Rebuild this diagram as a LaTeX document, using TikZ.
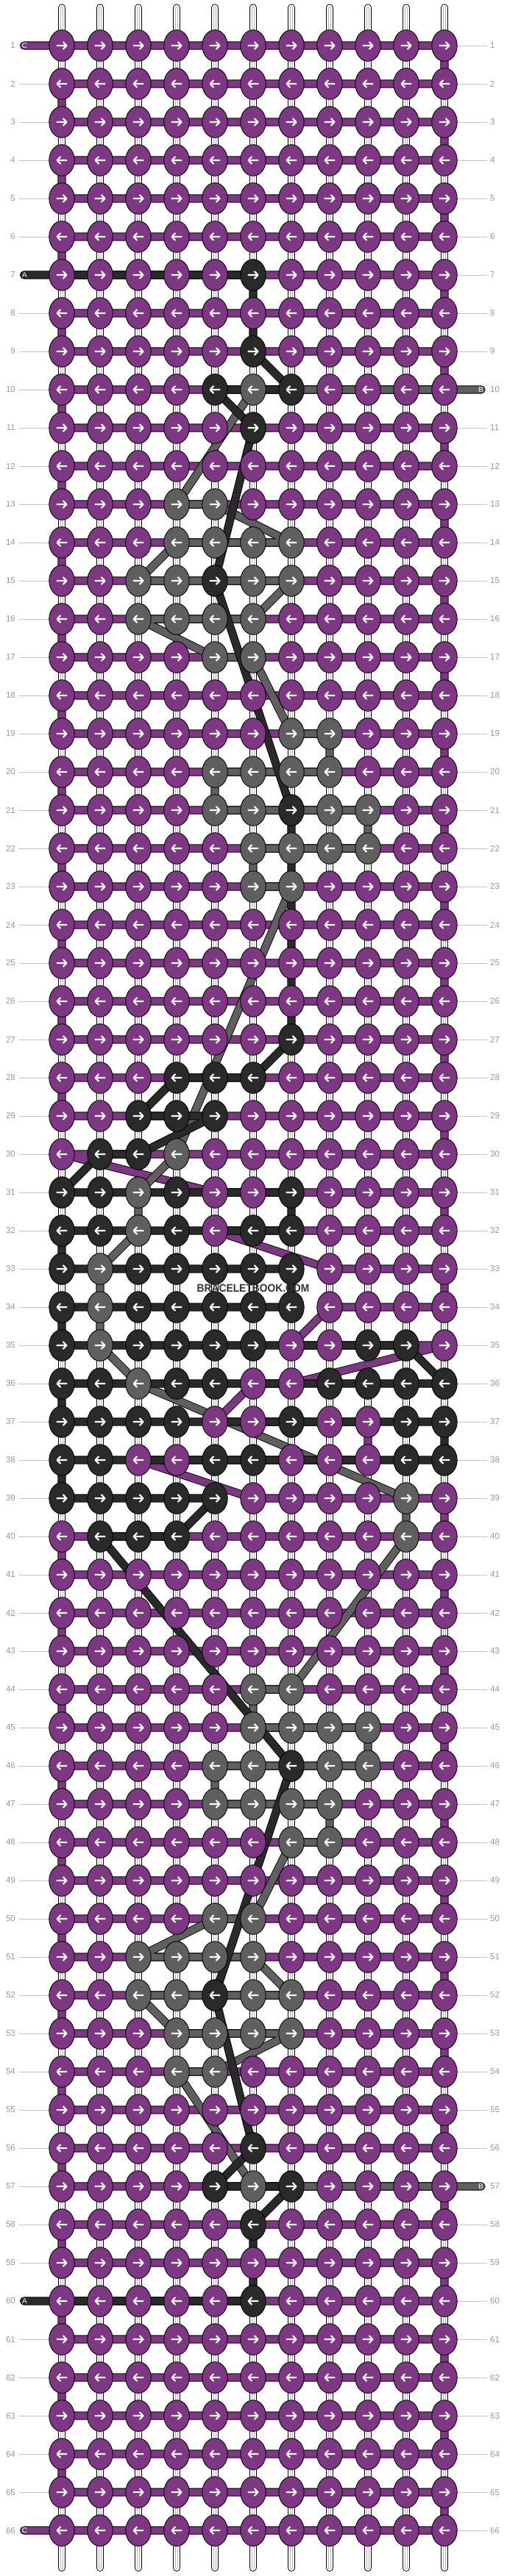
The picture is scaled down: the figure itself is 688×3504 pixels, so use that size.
\documentclass[tikz,border=0pt]{standalone}
\usepackage{fontspec}
\setmainfont{Liberation Sans}
\usetikzlibrary{shapes.geometric}
\definecolor{purp}{RGB}{126,56,131}
\definecolor{blk}{RGB}{42,42,42}
\definecolor{gry}{RGB}{95,95,95}
\definecolor{numc}{RGB}{153,153,153}
\definecolor{tickc}{RGB}{196,196,196}
\definecolor{wmc}{RGB}{51,51,51}
\newcommand\defrow[2]{\expandafter\def\csname kr@#1\endcsname{#2}}
\def\allP{P,P,P,P,P,P,P,P,P,P,P}
\defrow{7}{P,P,P,P,P,K,P,P,P,P,P}
\defrow{9}{P,P,P,P,P,K,P,P,P,P,P}
\defrow{10}{P,P,P,P,K,G,K,P,P,P,P}
\defrow{11}{P,P,P,P,P,K,P,P,P,P,P}
\defrow{13}{P,P,P,G,G,P,P,P,P,P,P}
\defrow{14}{P,P,P,G,G,G,G,P,P,P,P}
\defrow{15}{P,P,G,G,K,G,G,P,P,P,P}
\defrow{16}{P,P,G,G,G,G,P,P,P,P,P}
\defrow{17}{P,P,P,P,G,G,P,P,P,P,P}
\defrow{19}{P,P,P,P,P,P,G,G,P,P,P}
\defrow{20}{P,P,P,P,G,G,G,G,P,P,P}
\defrow{21}{P,P,P,P,G,G,K,G,G,P,P}
\defrow{22}{P,P,P,P,P,G,G,G,G,P,P}
\defrow{23}{P,P,P,P,P,G,G,P,P,P,P}
\defrow{27}{P,P,P,P,P,P,K,P,P,P,P}
\defrow{28}{P,P,P,K,K,K,P,P,P,P,P}
\defrow{29}{P,P,K,K,K,P,P,P,P,P,P}
\defrow{30}{P,K,K,G,P,P,P,P,P,P,P}
\defrow{31}{K,K,G,K,P,P,K,P,P,P,P}
\defrow{32}{K,K,G,K,P,K,K,P,P,P,P}
\defrow{33}{K,G,K,K,K,K,K,P,P,P,P}
\defrow{34}{K,G,K,K,K,K,K,P,P,P,P}
\defrow{35}{K,G,K,K,K,K,P,P,K,K,P}
\defrow{36}{K,K,G,K,K,P,P,K,K,K,K}
\defrow{37}{K,K,K,K,P,P,K,P,P,K,K}
\defrow{38}{K,K,P,P,K,K,P,P,P,K,K}
\defrow{39}{K,K,K,K,K,P,P,P,P,G,P}
\defrow{40}{P,K,K,K,P,P,P,P,P,G,P}
\defrow{44}{P,P,P,P,P,G,G,P,P,P,P}
\defrow{45}{P,P,P,P,P,G,G,G,G,P,P}
\defrow{46}{P,P,P,P,G,G,K,G,G,P,P}
\defrow{47}{P,P,P,P,G,G,G,G,P,P,P}
\defrow{48}{P,P,P,P,P,P,G,G,P,P,P}
\defrow{50}{P,P,P,P,G,G,P,P,P,P,P}
\defrow{51}{P,P,G,G,G,G,P,P,P,P,P}
\defrow{52}{P,P,G,G,K,G,G,P,P,P,P}
\defrow{53}{P,P,P,G,G,G,G,P,P,P,P}
\defrow{54}{P,P,P,G,G,P,P,P,P,P,P}
\defrow{56}{P,P,P,P,P,K,P,P,P,P,P}
\defrow{57}{P,P,P,P,K,G,K,P,P,P,P}
\defrow{58}{P,P,P,P,P,K,P,P,P,P,P}
\defrow{60}{P,P,P,P,P,K,P,P,P,P,P}
\tikzset{
  knot/.style={ellipse,draw=black,line width=0.9,minimum width=34.4,minimum height=42.6,inner sep=0},
  knotP/.style={knot,fill=purp},
  knotK/.style={knot,fill=blk},
  knotG/.style={knot,fill=gry},
  arw/.style={draw=white,line width=2.1,line cap=round,line join=round},
  thr/.style={draw=black,line width=0.9,double=#1,double distance=9.4,line cap=round,line join=round},
  strandout/.style={draw=black,line width=1,double=white,double distance=8.4,line cap=round},
  strandin/.style={draw=black!30,line width=0.7,double=white,double distance=2.2,line cap=round},
  numL/.style={anchor=east,inner sep=0,text=numc,font=\fontsize{11.5}{12}\selectfont},
  numR/.style={anchor=west,inner sep=0,text=numc,font=\fontsize{11.5}{12}\selectfont},
  tick/.style={draw=tickc,line width=1},
  lab/.style={inner sep=0,text=white,font=\fontsize{10}{10}\selectfont},
}
\begin{document}
\begin{tikzpicture}[x=1pt,y=-1pt]
\useasboundingbox (0,0) rectangle (688,3504);
\fill[white] (0,0) rectangle (688,3504);
% grid coordinates
\foreach \rr in {1,...,66}{
  \foreach \cc in {1,...,11}{
    \coordinate (p-\rr-\cc) at ({84+52*(\cc-1)},{62+52*(\rr-1)});
  }
}
% base strings
\foreach \cc in {1,...,11}{
  \coordinate (st-\cc) at ({84+52*(\cc-1)},10.5);
  \coordinate (sb-\cc) at ({84+52*(\cc-1)},3492.7);
  \draw[strandout] (st-\cc) -- (sb-\cc);
  \draw[strandin] (st-\cc) -- (sb-\cc);
}
% row numbers and ticks
\foreach \rr in {1,...,66}{
  \node[numL] (nl-\rr) at (21,{62+52*(\rr-1)}) {\rr};
  \node[numR] (nr-\rr) at (666,{62+52*(\rr-1)}) {\rr};
  \ifnum\rr=1 \else\ifnum\rr=7 \else\ifnum\rr=60 \else\ifnum\rr=66 \else
    \draw[tick] ([xshift=5pt]nl-\rr.east) -- (p-\rr-1);
  \fi\fi\fi\fi
  \ifnum\rr=10 \else\ifnum\rr=57 \else
    \draw[tick] (p-\rr-11) -- ([xshift=-4pt]nr-\rr.west);
  \fi\fi
}
% thread ends
\coordinate (sC) at (32.5,62);
\coordinate (eC) at (32.5,3442);
\coordinate (sA) at (32.5,374);
\coordinate (eA) at (32.5,3130);
\coordinate (sB) at (654,530);
\coordinate (eB) at (654,2974);
% thread C (purple)
\draw[thr=purp] (sC)
  \foreach \a/\b in {1/2,3/4,5/6,7/8,9/10,11/12,13/14,15/16,17/18,19/20,21/22,23/24,25/26,27/28,29/30}{
    -- (p-\a-1) -- (p-\a-11) -- (p-\b-11) -- (p-\b-1) }
  -- (p-31-5) -- (p-31-11) -- (p-32-11) -- (p-32-5) -- (p-33-8) -- (p-33-11)
  -- (p-34-11) -- (p-34-8) -- (p-35-7) -- (p-35-11) -- (p-36-7) -- (p-36-6)
  -- (p-37-5) -- (p-37-9) -- (p-38-9) -- (p-38-3) -- (p-39-6) -- (p-39-11)
  -- (p-40-11) -- (p-40-1)
  \foreach \a/\b in {41/42,43/44,45/46,47/48,49/50,51/52,53/54,55/56,57/58,59/60,61/62,63/64,65/66}{
    -- (p-\a-1) -- (p-\a-11) -- (p-\b-11) -- (p-\b-1) }
  -- (eC);
% thread B (grey)
\draw[thr=gry] (sB) -- (p-10-6) -- (p-13-4) -- (p-13-5) -- (p-14-7) -- (p-14-4)
  -- (p-15-3) -- (p-15-7) -- (p-16-6) -- (p-16-3) -- (p-17-5) -- (p-17-6)
  -- (p-19-7) -- (p-19-8) -- (p-20-8) -- (p-20-5) -- (p-21-5) -- (p-21-9)
  -- (p-22-9) -- (p-22-6) -- (p-23-6) -- (p-23-7) -- (p-30-4) -- (p-31-3)
  -- (p-32-3) -- (p-33-2) -- (p-34-2) -- (p-35-2) -- (p-36-3) -- (p-39-10)
  -- (p-40-10) -- (p-44-7) -- (p-44-6) -- (p-45-6) -- (p-45-9) -- (p-46-9)
  -- (p-46-5) -- (p-47-5) -- (p-47-8) -- (p-48-8) -- (p-48-7) -- (p-50-6)
  -- (p-50-5) -- (p-51-3) -- (p-51-6) -- (p-52-7) -- (p-52-3) -- (p-53-4)
  -- (p-53-7) -- (p-54-5) -- (p-54-4) -- (p-57-6) -- (eB);
% thread A (black)
\draw[thr=blk] (sA) -- (p-7-6) -- (p-9-6) -- (p-10-7) -- (p-10-5) -- (p-11-6)
  -- (p-15-5) -- (p-21-7) -- (p-27-7) -- (p-28-6) -- (p-28-4) -- (p-29-3)
  -- (p-29-5) -- (p-30-3) -- (p-30-2) -- (p-31-1) -- (p-31-7) -- (p-32-7)
  -- (p-32-1) -- (p-33-1) -- (p-33-7) -- (p-34-7) -- (p-34-1) -- (p-35-1)
  -- (p-35-10) -- (p-36-11) -- (p-36-1) -- (p-37-1) -- (p-37-11) -- (p-38-11)
  -- (p-38-1) -- (p-39-1) -- (p-39-5) -- (p-40-4) -- (p-40-2) -- (p-46-7)
  -- (p-52-5) -- (p-56-6) -- (p-57-5) -- (p-57-7) -- (p-58-6) -- (p-60-6) -- (eA);
% knots
\foreach \rr in {1,...,66}{
  \ifcsname kr@\rr\endcsname
    \expandafter\let\expandafter\cols\csname kr@\rr\endcsname
  \else
    \let\cols\allP
  \fi
  \ifodd\rr \def\sg{1}\else\def\sg{-1}\fi
  \foreach \kk [count=\cc] in \cols {
    \node[knot\kk] (k-\rr-\cc) at (p-\rr-\cc) {};
    \draw[arw] (k-\rr-\cc.center) +({-6.5*\sg},0) -- +({6.2*\sg},0)
      +({1.9*\sg},-4.7) -- +({6.5*\sg},0) -- +({1.9*\sg},4.7);
  }
}
% thread labels
\node[lab] (lC1) at (33.5,62) {C};
\node[lab] (lC2) at (33.5,3442) {C};
\node[lab] (lA1) at (33.5,374) {A};
\node[lab] (lA2) at (33.5,3130) {A};
\node[lab] (lB1) at (653.5,530) {B};
\node[lab] (lB2) at (653.5,2974) {B};
% watermark
\node[inner sep=0,text=wmc,font=\bfseries\fontsize{15}{15}\selectfont,xscale=0.92] (wm) at (344,1752) {BRACELETBOOK.COM};
\end{tikzpicture}
\end{document}
